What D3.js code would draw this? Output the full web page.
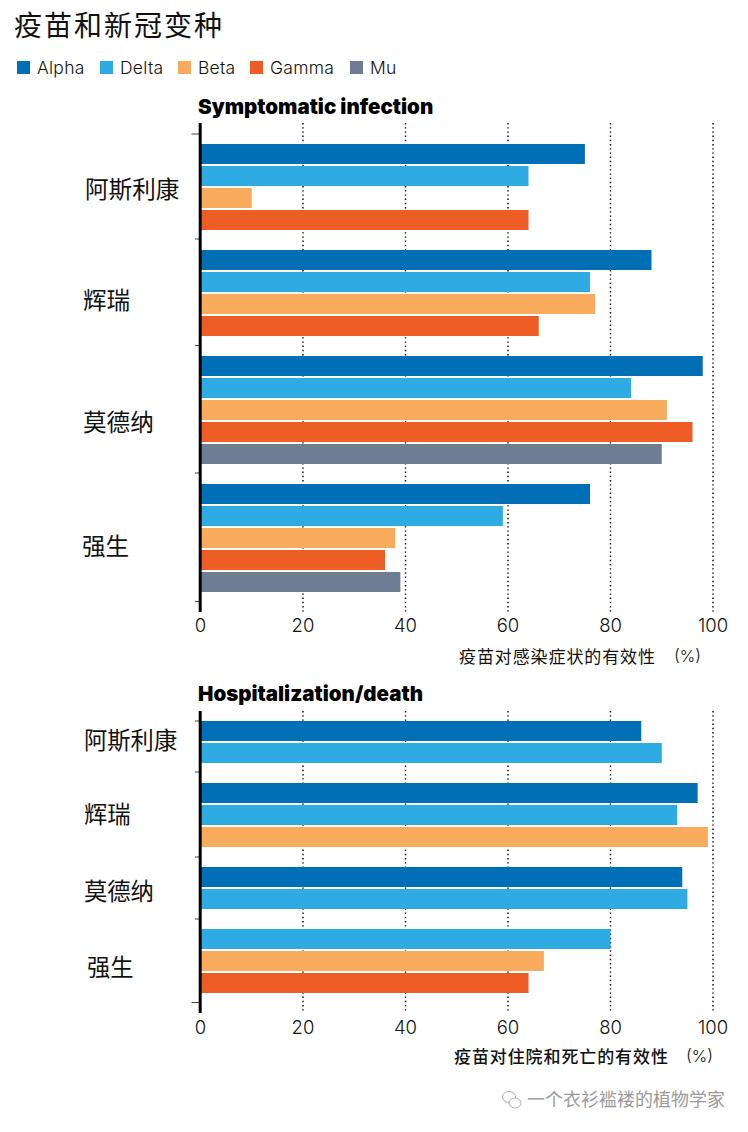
<!DOCTYPE html>
<html><head><meta charset="utf-8">
<script src="https://cdn.jsdelivr.net/npm/d3@7"></script>
<style>html,body{margin:0;background:#fff}svg{display:block}</style></head>
<body><svg id="c" width="748" height="1132"></svg>
<script>
const vaccines1 = ["阿斯利康","辉瑞","莫德纳","强生"];
const seriesNames = ["Alpha","Delta","Beta","Gamma","Mu"];
const seriesColors = ["#006fb6","#2eabe2","#f8ab5c","#ee5c26","#6f7c94"];
const alpha1 = [75,88,98,76];
const delta1 = [64,76,84,59];
const beta1  = [10,77,91,38];
const gamma1 = [64,66,96,36];
const mu1    = [null,null,90,39];
const alpha2 = [86,97,94,null];
const delta2 = [90,93,95,80];
const beta2  = [null,99,null,67];
const gamma2 = [null,null,null,64];
const mu2    = [null,null,null,null];
const xTicks = [0,20,40,60,80,100];

const CJK = '"Noto Sans CJK SC"';
const LAT = 'Inter, Lato, sans-serif';
const svg = d3.select("#c");
const x = d3.scaleLinear().domain([0,100]).range([200.5,713]);
const color = d3.scaleOrdinal(seriesNames, seriesColors);

// title
svg.append("text").attr("x",14).attr("y",36).attr("font-family",CJK).attr("font-size",28)
  .attr("font-weight",400).attr("letter-spacing",2).attr("fill","#111").text("疫苗和新冠变种");

// legend
const legendX = [17,100,178,250,350];
seriesNames.forEach((s,i)=>{
  svg.append("rect").attr("x",legendX[i]).attr("y",61).attr("width",13).attr("height",13).attr("fill",color(s));
  svg.append("text").attr("x",legendX[i]+20).attr("y",74).attr("font-family",LAT).attr("font-weight",300)
    .attr("font-size",17.5).attr("letter-spacing",0.25).attr("fill","#111").text(s);
});

function panel(o){
  const g = svg.append("g");
  const rows=[]; let pos=0;
  o.groups.forEach((name,gi)=>{
    o.series.forEach((vals,si)=>{
      if(vals[gi]!=null){ rows.push({group:gi,name:seriesNames[si],value:vals[gi],pos}); pos+=1; }
    });
    pos+=18/22;
  });
  const y = d3.scaleLinear().domain([0,1]).range([o.top,o.top+22]);
  // grid
  g.append("g").selectAll("line").data(xTicks.slice(1)).join("line")
    .attr("x1",d=>x(d)).attr("x2",d=>x(d)).attr("y1",o.axisTop).attr("y2",o.axisBottom)
    .attr("stroke","#000").attr("stroke-width",1.4).attr("stroke-dasharray","1.4 2.8");
  // bars
  g.append("g").selectAll("rect").data(rows).join("rect")
    .attr("x",x(0)).attr("y",d=>y(d.pos)).attr("width",d=>x(d.value)-x(0)).attr("height",20)
    .attr("fill",d=>color(d.name));
  // left ticks
  g.append("g").selectAll("line").data(o.ticksY).join("line")
    .attr("x1",(d,i)=>i===o.longTick?191.5:195).attr("x2",200).attr("y1",d=>d).attr("y2",d=>d)
    .attr("stroke","#444").attr("stroke-width",1);
  // axis line
  g.append("line").attr("x1",200.2).attr("x2",200.2).attr("y1",o.axisTop).attr("y2",o.axisBottom)
    .attr("stroke","#000").attr("stroke-width",3);
  // x labels
  g.append("g").selectAll("text").data(xTicks).join("text")
    .attr("x",d=>x(d)).attr("y",o.tickBase).attr("text-anchor","middle")
    .attr("font-family",LAT).attr("font-weight",300).attr("font-size",18.5).attr("fill","#111").text(d=>d);
  // panel title
  g.append("text").attr("x",198).attr("y",o.titleBase).attr("font-family",LAT).attr("font-weight",900)
    .attr("font-size",20.5).attr("fill","#000").text(o.title);
  // category labels
  o.groups.forEach((name,i)=>{
    g.append("text").attr("x",o.labelX[i]).attr("y",o.labelY[i]).attr("font-family",CJK)
      .attr("font-size",o.labelSize).attr("fill","#111").text(name);
  });
  // axis title
  g.append("text").attr("x",o.axX).attr("y",o.axY).attr("font-family",CJK).attr("font-size",17)
    .attr("font-weight",o.axWeight).attr("letter-spacing",0.9).attr("fill","#111").text(o.axTitle);
  g.append("text").attr("x",o.pctX).attr("y",o.axY-1).attr("font-family",LAT).attr("font-weight",300)
    .attr("font-size",16.5).attr("fill","#111").text("(%)");
}

panel({title:"Symptomatic infection",groups:vaccines1,series:[alpha1,delta1,beta1,gamma1,mu1],
  top:144,axisTop:123,axisBottom:612,ticksY:[134,239,345.5,473,601.5],longTick:0,tickBase:632,titleBase:114,
  labelX:[85,83,83,82],labelY:[198,309,431,555],labelSize:23.6,
  axTitle:"疫苗对感染症状的有效性",axX:459,axY:663,axWeight:400,pctX:674});
panel({title:"Hospitalization/death",groups:vaccines1,series:[alpha2,delta2,beta2,gamma2,mu2],
  top:721,axisTop:711,axisBottom:1013,ticksY:[721,772,857,919,1002.5],longTick:4,tickBase:1034,titleBase:701,
  labelX:[84,84,84,87],labelY:[749,823,900,976],labelSize:23.3,
  axTitle:"疫苗对住院和死亡的有效性",axX:454,axY:1063,axWeight:500,pctX:686});

// watermark
const wm = svg.append("g");
wm.append("text").attr("x",527).attr("y",1106).attr("font-family",CJK).attr("font-size",18)
  .attr("fill","#9a9a9a").text("一个衣衫褴褛的植物学家");
const icon = wm.append("g").attr("fill","#fff").attr("stroke","#999").attr("stroke-width",0.8);
icon.append("ellipse").attr("cx",509).attr("cy",1097).attr("rx",6.5).attr("ry",5.5);
icon.append("ellipse").attr("cx",515).attr("cy",1103).attr("rx",6).attr("ry",5);
</script></body></html>
